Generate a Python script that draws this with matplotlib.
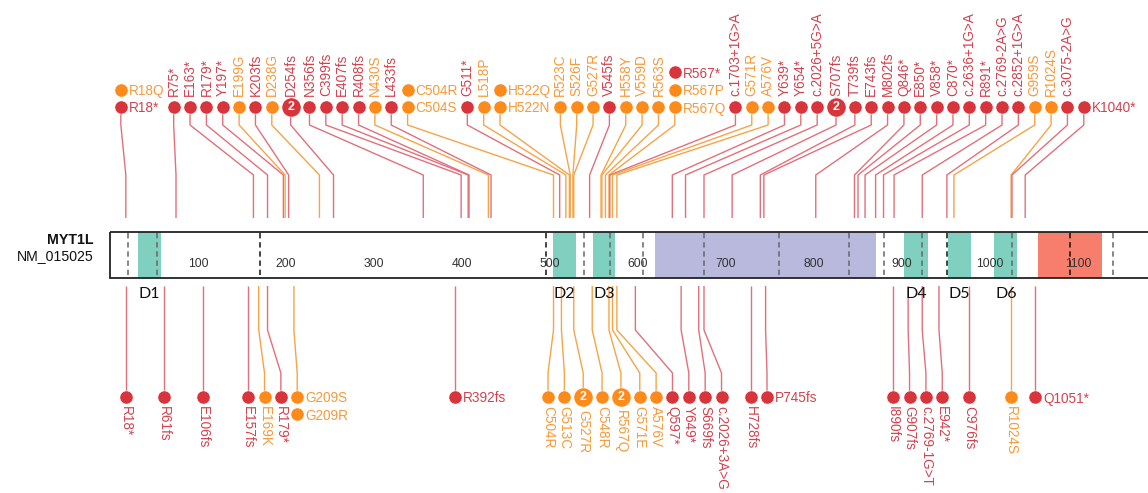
import matplotlib
matplotlib.use("Agg")
import matplotlib.pyplot as plt
from matplotlib.patches import Rectangle

plt.rcParams['font.family'] = ['Liberation Sans', 'DejaVu Sans']

# ---------------- data ----------------
gene_name = "MYT1L"
transcript = "NM_015025"
protein_length = 1186

# mutations drawn above the protein (T = truncating / splice, M = missense)
top_labels = ["R18*", "R18Q", "R75*", "E163*", "R179*", "Y197*", "E199G", "K203fs",
              "D238G", "D254fs", "N356fs", "C399fs", "E407fs", "R408fs", "N430S",
              "L433fs", "C504S", "C504R", "G511*", "L518P", "H522N", "H522Q", "R523C",
              "S526F", "G527R", "V545fs", "H558Y", "V559D", "R563S", "R567Q", "R567P",
              "R567*", "c.1703+1G>A", "G571R", "A576V", "Y639*", "Y654*", "c.2026+5G>A",
              "S707fs", "T739fs", "E743fs", "M802fs", "Q846*", "E850*", "V858*", "C870*",
              "c.2636+1G>A", "R891*", "c.2769-2A>G", "c.2852+1G>A", "G959S", "R1024S",
              "c.3075-2A>G", "K1040*"]
top_positions = [18, 18, 75, 163, 179, 197, 199, 203, 238, 254, 356, 399, 407, 408, 430,
                 433, 504, 504, 511, 518, 522, 522, 523, 526, 527, 545, 558, 559, 563, 567,
                 567, 567, 568, 571, 576, 639, 654, 675, 707, 739, 743, 802, 846, 850, 858,
                 870, 879, 891, 923, 951, 959, 1024, 1025, 1040]
top_classes = ["T", "M", "T", "T", "T", "T", "M", "T", "M", "T", "T", "T", "T", "T", "M",
               "T", "M", "M", "T", "M", "M", "M", "M", "M", "M", "T", "M", "M", "M", "M",
               "M", "T", "T", "M", "M", "T", "T", "T", "T", "T", "T", "T", "T", "T", "T",
               "T", "T", "T", "T", "T", "M", "M", "T", "T"]
top_counts = [1] * len(top_labels)
top_counts[top_labels.index("D254fs")] = 2
top_counts[top_labels.index("S707fs")] = 2

# mutations drawn below the protein
bottom_labels = ["R18*", "R61fs", "E106fs", "E157fs", "E169K", "R179*", "G209S", "G209R",
                 "R392fs", "C504R", "G513C", "G527R", "C548R", "R567Q", "G571E", "A576V",
                 "Q597*", "Y649*", "S669fs", "c.2026+3A>G", "H728fs", "P745fs", "I890fs",
                 "G907fs", "c.2769-1G>T", "E942*", "C976fs", "R1024S", "Q1051*"]
bottom_positions = [18, 61, 106, 157, 169, 179, 209, 209, 392, 504, 513, 527, 548, 567, 571,
                    576, 597, 649, 669, 675, 728, 745, 890, 907, 923, 942, 976, 1024, 1051]
bottom_classes = ["T", "T", "T", "T", "M", "T", "M", "M", "T", "M", "M", "M", "M", "M", "M",
                  "M", "T", "T", "T", "T", "T", "T", "T", "T", "T", "T", "T", "M", "T"]
bottom_counts = [1] * len(bottom_labels)
bottom_counts[bottom_labels.index("G527R")] = 2
bottom_counts[bottom_labels.index("R567Q")] = 2
bottom_inline = {"R392fs", "P745fs"}

# protein features
domain_names = ["D1", "D2", "D3", "D4", "D5", "D6"]
domain_starts = [32, 503, 549, 902, 952, 1005]
domain_ends = [58, 529, 574, 930, 978, 1031]
region_starts = [619, 1055]
region_ends = [870, 1127]
exon_bounds = [20, 53, 170, 495, 539, 568, 606, 675, 760, 840, 879, 923, 951, 1025, 1091, 1140]
exon_bounds_dark = [170, 495, 951, 1091]
axis_ticks = [100, 200, 300, 400, 500, 600, 700, 800, 900, 1000, 1100]

# ---------------- style ----------------
W, H = 1148, 493
PX0, KX = 110.0, 0.88          # pixel of residue 0, pixels per residue
CIRCLE_RED, CIRCLE_ORG = "#d8343b", "#fd8b1c"
TEXT_RED, TEXT_ORG = "#d2424f", "#f79a3a"
LINE_RED, LINE_ORG = "#e2707c", "#f6a448"
TEAL, PURPLE, SALMON = "#7fd0bf", "#b9b9de", "#f77d6c"
LAB_FS = 9.8
STEP = 16.35
BIG_EXTRA = 2.5

fig = plt.figure(figsize=(W / 100, H / 100), dpi=100)
ax = fig.add_axes([0, 0, 1, 1])
to_aa = lambda px: (px - PX0) / KX
to_px = lambda aa: PX0 + KX * aa
ax.set_xlim(to_aa(0), to_aa(W))
ax.set_ylim(H, 0)
ax.axis("off")
renderer = fig.canvas.get_renderer()


def text_width(s):
    t = ax.text(0, 0, s, fontsize=LAB_FS)
    w = t.get_window_extent(renderer).width
    t.remove()
    return w


def make_groups(labels, positions, classes, counts):
    groups = []
    for lab, pos, cls, cnt in zip(labels, positions, classes, counts):
        if groups and groups[-1]["pos"] == pos:
            groups[-1]["items"].append((lab, cls, cnt))
        else:
            groups.append({"pos": pos, "items": [(lab, cls, cnt)]})
    return groups


def layout(groups, inline, shift, packed):
    xs = []
    for i, g in enumerate(groups):
        ideal = to_px(g["pos"]) - shift
        if i == 0:
            x = ideal
        else:
            p = groups[i - 1]
            gap = STEP + (BIG_EXTRA if p["items"][0][2] > 1 else 0) + \
                (BIG_EXTRA if g["items"][0][2] > 1 else 0)
            if inline[i - 1]:
                gap += max(text_width(it[0]) for it in p["items"]) + 1
            x = xs[-1] + gap if packed else max(ideal, xs[-1] + gap)
        xs.append(x)
    return xs


def shift_long_clusters(groups, xs, min_size, shift):
    i, n = 0, len(xs)
    while i < n:
        j = i + 1
        while j < n and xs[j] > to_px(groups[j]["pos"]) + 0.01:
            j += 1
        if j - i >= min_size:
            for k in range(i, j):
                xs[k] -= shift
        i = j


def colors(cls):
    if cls == "T":
        return CIRCLE_RED, TEXT_RED, LINE_RED
    return CIRCLE_ORG, TEXT_ORG, LINE_ORG


def draw_side(groups, xs, inline, top):
    for g, x, inl in zip(groups, xs, inline):
        xa = to_aa(x)
        pa = g["pos"]
        cls0 = g["items"][0][1]
        lc = colors(cls0)[2]
        if top:
            ys = [107, 125, 175, 218]
            xsl = [xa, xa, pa, pa]
        else:
            ys = [286, 330, 373, 397]
            xsl = [pa, pa, xa, xa]
        ax.plot(xsl, ys, color=lc, lw=1.0, zorder=2, solid_capstyle="butt")
        for r, (lab, cls, cnt) in enumerate(g["items"]):
            cc, tc, _ = colors(cls)
            y = (107 - 17.5 * r) if top else (397 + 17 * r)
            big = cnt > 1
            ax.scatter([xa], [y], s=190 if big else 90, color=cc, edgecolors="white",
                       linewidths=0.4, zorder=4)
            if big:
                ax.text(xa, y + 0.5, str(cnt), color="white", fontsize=9, fontweight="bold",
                        ha="center", va="center", zorder=5)
            if inl:
                ax.text(xa + to_aa(PX0 + 8), y, lab, color=tc, fontsize=LAB_FS,
                        ha="left", va="center_baseline", zorder=5)
            else:
                if top:
                    ax.text(xa, 96, lab, color=tc, fontsize=LAB_FS, rotation=90,
                            ha="center", va="bottom", zorder=5)
                else:
                    ax.text(xa, 410 if big else 406, lab, color=tc, fontsize=LAB_FS,
                            rotation=-90, ha="center", va="top", zorder=5)


# ---------------- protein bar ----------------
BAR_T, BAR_B = 232, 278
ax.add_patch(Rectangle((0, BAR_T), 1400, BAR_B - BAR_T, facecolor="white",
                       edgecolor="none", zorder=1))
for s, e in zip(domain_starts, domain_ends):
    ax.add_patch(Rectangle((s, BAR_T), e - s, BAR_B - BAR_T, facecolor=TEAL,
                           edgecolor="none", zorder=1.2))
for s, e, c in zip(region_starts, region_ends, [PURPLE, SALMON]):
    ax.add_patch(Rectangle((s, BAR_T), e - s, BAR_B - BAR_T, facecolor=c,
                           edgecolor="none", zorder=1.2))
for b in exon_bounds:
    dark = b in exon_bounds_dark
    ax.plot([b, b], [BAR_T + 1, BAR_B - 1], color="#111" if dark else "#666",
            lw=1.1, ls=(0, (3.5, 2.5)), zorder=1.5)
ax.add_patch(Rectangle((0, BAR_T), 1400, BAR_B - BAR_T, facecolor="none",
                       edgecolor="#222", lw=1.3, zorder=1.8))
for t in axis_ticks:
    ax.text(t, 264, str(t), ha="center", va="center", fontsize=8.8, color="#333", zorder=2)
for name, s, e in zip(domain_names, domain_starts, domain_ends):
    ax.text((s + e) / 2, 294, name, ha="center", va="center", fontsize=11.5,
            family=["Lato", "DejaVu Sans"], color="#111", zorder=3)
ax.text(to_aa(94), 240, gene_name, ha="right", va="center", fontsize=10.2,
        fontweight="bold", color="#111")
ax.text(to_aa(94), 256, transcript, ha="right", va="center", fontsize=10.2, color="#111")

# ---------------- lollipops ----------------
top_groups = make_groups(top_labels, top_positions, top_classes, top_counts)
top_inline = [len(g["items"]) > 1 or i == len(top_groups) - 1
              for i, g in enumerate(top_groups)]
top_x = layout(top_groups, top_inline, shift=5.0, packed=True)
draw_side(top_groups, top_x, top_inline, top=True)

bot_groups = make_groups(bottom_labels, bottom_positions, bottom_classes, bottom_counts)
bot_inline = [len(g["items"]) > 1 or i == len(bot_groups) - 1 or g["items"][0][0] in bottom_inline
              for i, g in enumerate(bot_groups)]
bot_x = layout(bot_groups, bot_inline, shift=0.0, packed=False)
shift_long_clusters(bot_groups, bot_x, 6, 5.5)
draw_side(bot_groups, bot_x, bot_inline, top=False)

fig.savefig("out.png", dpi=100)
